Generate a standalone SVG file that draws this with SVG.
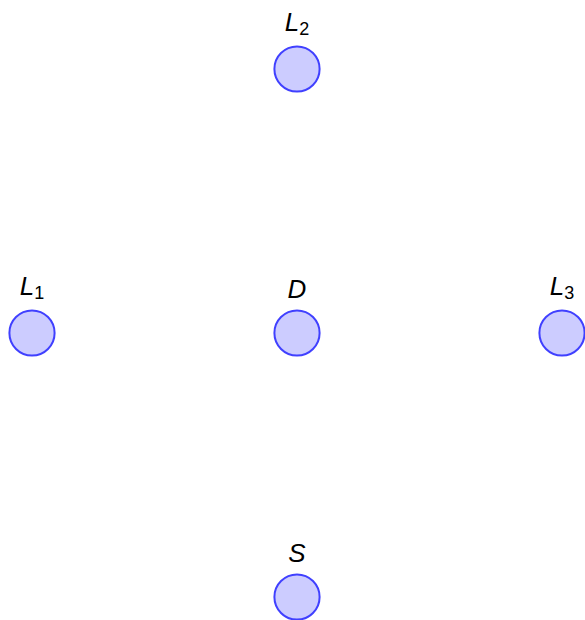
<svg xmlns="http://www.w3.org/2000/svg" width="585" height="620" viewBox="0 0 585 620">
<style>
.node{fill:#ccccff;stroke:#4040ff;stroke-width:2}
.lbl{font-family:"Liberation Sans",Arial,sans-serif;font-size:26px;font-style:italic;fill:#000;text-anchor:middle}
.sub{font-size:18px;font-style:normal}
</style>
<rect width="585" height="620" fill="#fff"/>
<g id="L2"><circle class="node" cx="297" cy="69" r="22.6"/><text class="lbl" x="297" y="31">L<tspan class="sub" dy="4">2</tspan></text></g>
<g id="L1"><circle class="node" cx="32" cy="333" r="22.6"/><text class="lbl" x="32" y="295">L<tspan class="sub" dy="4">1</tspan></text></g>
<g id="D"><circle class="node" cx="297" cy="333" r="22.6"/><text class="lbl" x="297" y="298">D</text></g>
<g id="L3"><circle class="node" cx="562" cy="333" r="22.6"/><text class="lbl" x="562" y="295">L<tspan class="sub" dy="4">3</tspan></text></g>
<g id="S"><circle class="node" cx="297" cy="597" r="22.6"/><text class="lbl" x="297" y="562">S</text></g>
<g id="connectors"></g>
</svg>
